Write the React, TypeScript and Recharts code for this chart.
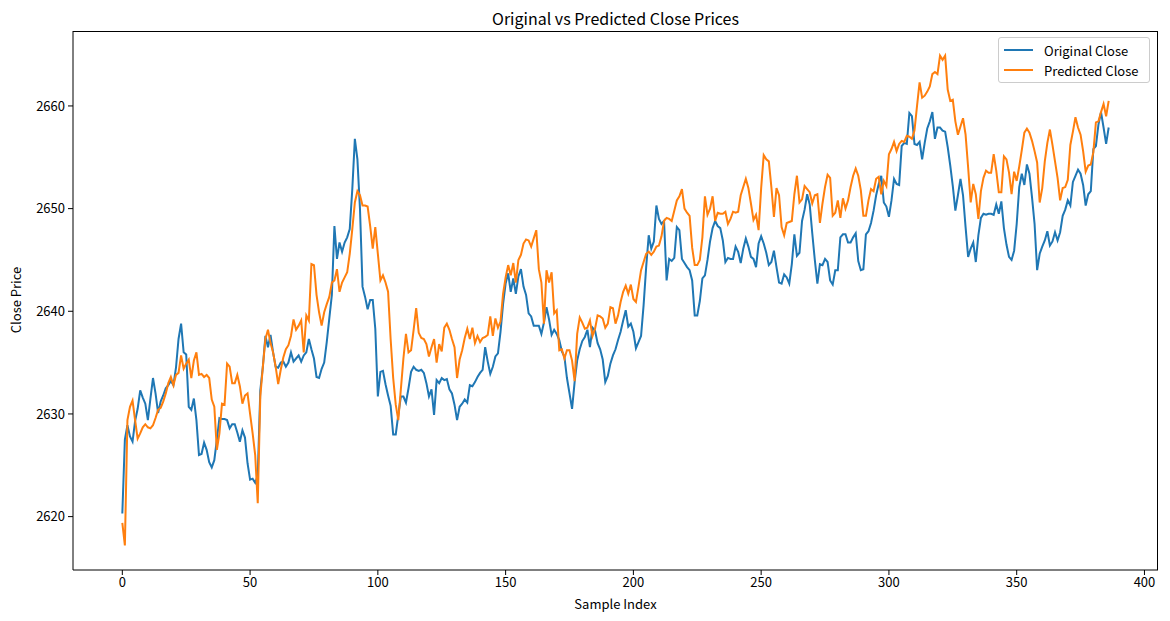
import { LineChart, Line, XAxis, YAxis } from 'recharts';

const FONT = '"Noto Sans CJK JP", "Noto Sans", sans-serif';
const BLUE = '#1f77b4';
const ORANGE = '#ff7f0e';

const xTicks = [0, 50, 100, 150, 200, 250, 300, 350, 400];
const yTicks = [2620, 2630, 2640, 2650, 2660];

// one value per sample index
const originalClose = [
  2620.3, 2627.5, 2628.9, 2627.8, 2627.3, 2629.3, 2630.5, 2632.3, 2631.6, 2631.0,
  2629.4, 2631.5, 2633.5, 2632.0, 2630.1, 2631.2, 2631.8, 2632.5, 2632.8, 2633.2,
  2632.8, 2634.5, 2637.3, 2638.8, 2636.0, 2635.8, 2630.7, 2630.4, 2631.5, 2629.4,
  2626.0, 2626.1, 2627.2, 2626.5, 2625.3, 2624.8, 2625.5, 2627.5, 2629.6, 2629.5,
  2629.5, 2629.4, 2628.6, 2629.0, 2629.0, 2628.2, 2627.3, 2628.4, 2627.7, 2625.2,
  2623.6, 2623.7, 2623.3, 2624.0, 2632.3, 2634.6, 2637.6, 2636.5, 2637.7, 2636.0,
  2634.6, 2634.5, 2635.0, 2635.1, 2634.6, 2635.0, 2636.0, 2635.1, 2635.4, 2635.7,
  2635.1, 2635.7, 2636.0, 2637.3, 2636.3, 2635.4, 2633.6, 2633.5, 2634.4, 2635.0,
  2637.0, 2639.3, 2641.6, 2648.3, 2645.1, 2646.7, 2645.8, 2646.7, 2647.2, 2648.0,
  2651.9, 2656.8, 2654.8, 2650.0, 2642.4, 2641.4, 2640.2, 2641.1, 2641.1, 2638.3,
  2631.7, 2634.1, 2634.2, 2632.9, 2631.8, 2630.8, 2628.0, 2628.0, 2629.9, 2631.7,
  2631.7, 2631.1, 2632.5, 2634.1, 2634.6, 2634.3, 2634.2, 2634.3, 2634.0, 2633.0,
  2631.7, 2632.4, 2629.9, 2633.3, 2633.0, 2633.5, 2633.3, 2633.4, 2632.4, 2632.0,
  2630.9, 2629.4, 2630.7, 2631.0, 2631.4, 2631.1, 2632.8, 2632.7, 2633.1, 2633.6,
  2634.0, 2634.3, 2636.5, 2635.1, 2633.9, 2634.6, 2635.6, 2635.9, 2638.0, 2640.7,
  2642.7, 2643.7, 2641.9, 2643.2, 2641.7, 2643.4, 2644.1, 2642.4, 2641.6, 2639.8,
  2639.5, 2638.6, 2638.6, 2638.6, 2637.8, 2638.9, 2640.4, 2639.2, 2637.7, 2638.2,
  2637.8, 2637.2, 2636.1, 2635.6, 2633.5, 2632.0, 2630.5, 2633.1, 2635.2, 2636.3,
  2637.1, 2637.5, 2638.2, 2636.5, 2638.4, 2638.1, 2636.9, 2636.3, 2635.3, 2633.1,
  2633.7, 2634.9, 2635.7, 2636.3, 2637.2, 2638.0, 2639.1, 2640.1, 2638.5, 2638.8,
  2638.0, 2636.4, 2637.0, 2637.6, 2640.6, 2644.3, 2647.4, 2646.1, 2646.8, 2650.3,
  2649.0, 2648.5, 2648.8, 2643.0, 2645.1, 2644.9, 2645.2, 2648.2, 2647.9, 2645.1,
  2644.7, 2644.3, 2644.0, 2643.0, 2639.6, 2639.6, 2641.0, 2643.2, 2643.5, 2645.0,
  2646.8, 2648.1, 2648.8, 2648.3, 2648.1, 2646.9, 2644.8, 2645.2, 2645.1, 2645.1,
  2646.3, 2645.8, 2644.7, 2646.1, 2647.1, 2646.3, 2645.3, 2645.1, 2644.3, 2646.6,
  2647.3, 2646.6, 2645.7, 2644.5, 2644.8, 2645.9, 2644.3, 2642.8, 2642.7, 2643.6,
  2643.3, 2642.7, 2644.6, 2647.5, 2645.4, 2645.7, 2648.8, 2649.9, 2651.4, 2650.4,
  2647.6, 2645.0, 2642.7, 2644.6, 2644.5, 2645.1, 2644.8, 2643.0, 2642.6, 2644.0,
  2644.0, 2647.2, 2647.5, 2647.5, 2646.7, 2646.7, 2647.2, 2647.6, 2644.9, 2644.0,
  2644.1, 2647.5, 2647.8, 2648.6, 2649.8, 2651.3, 2652.4, 2653.2, 2650.6, 2650.2,
  2649.2, 2650.8, 2652.9, 2652.4, 2652.3, 2656.1, 2656.4, 2656.3, 2659.3, 2659.0,
  2656.3, 2656.2, 2656.5, 2654.8, 2656.4, 2657.8, 2658.5, 2659.4, 2656.8, 2657.9,
  2657.9, 2657.6, 2657.5, 2656.0, 2654.2, 2652.2, 2649.8, 2651.3, 2652.9, 2651.3,
  2648.2, 2645.3, 2646.1, 2646.7, 2644.8, 2647.4, 2649.1, 2649.5, 2649.4, 2649.5,
  2649.5, 2649.4, 2650.4, 2649.5, 2650.7, 2648.1, 2646.5, 2645.3, 2645.0, 2645.9,
  2648.5, 2652.1, 2653.4, 2652.3, 2654.3, 2653.4, 2651.1, 2648.5, 2644.0, 2645.6,
  2646.3, 2646.9, 2647.8, 2646.4, 2646.8, 2647.7, 2646.9, 2647.7, 2649.3, 2649.9,
  2650.8, 2650.3, 2652.6, 2653.2, 2653.8, 2653.4, 2652.3, 2650.3, 2651.4, 2651.7,
  2655.8, 2656.1, 2658.2, 2659.4, 2657.9, 2656.3, 2657.9,
];

const predictedClose = [
  2619.4, 2617.2, 2629.4, 2630.7, 2631.3, 2629.4, 2627.6, 2628.1, 2628.7, 2629.0,
  2628.7, 2628.6, 2628.9, 2629.6, 2630.4, 2630.6, 2631.2, 2632.0, 2633.0, 2633.6,
  2632.8, 2633.8, 2634.0, 2635.7, 2634.4, 2634.9, 2635.3, 2633.5, 2635.2, 2636.0,
  2633.8, 2633.9, 2633.6, 2633.8, 2633.5, 2631.4, 2630.7, 2626.5, 2628.1, 2631.0,
  2630.9, 2634.9, 2634.6, 2633.0, 2633.0, 2633.8, 2632.7, 2631.0, 2631.8, 2632.0,
  2630.0, 2628.1, 2626.0, 2621.3, 2631.7, 2634.6, 2637.3, 2638.2, 2636.9, 2636.0,
  2634.6, 2632.9, 2634.3, 2635.5, 2636.3, 2636.7, 2637.6, 2639.2, 2638.2, 2638.6,
  2639.1, 2636.0, 2639.6, 2639.1, 2644.6, 2644.5, 2641.6, 2639.9, 2638.6, 2639.9,
  2640.7, 2641.4, 2642.8, 2643.0, 2644.1, 2641.9, 2642.8, 2643.3, 2643.8, 2645.6,
  2648.0, 2650.6, 2651.7, 2651.3, 2650.3, 2650.3, 2650.2, 2648.3, 2646.1, 2648.2,
  2645.6, 2643.0, 2643.5, 2642.8, 2641.9, 2637.3, 2633.5, 2630.9, 2629.4, 2632.4,
  2635.4, 2637.8, 2636.0, 2636.2, 2638.2, 2640.3, 2637.9, 2637.4, 2637.3, 2636.8,
  2635.6, 2636.5, 2637.3, 2635.0, 2636.8, 2636.1, 2638.4, 2638.8, 2638.2, 2637.3,
  2636.5, 2633.5, 2635.3, 2636.2, 2637.4, 2638.3, 2637.3, 2638.4, 2636.9, 2637.6,
  2637.0, 2637.4, 2637.5, 2637.7, 2639.5, 2637.6, 2639.3, 2638.4, 2639.0, 2641.7,
  2643.3, 2644.5, 2643.5, 2644.7, 2642.8, 2645.0, 2645.5, 2646.6, 2647.0, 2646.9,
  2646.3, 2647.1, 2647.9, 2644.1, 2642.8, 2638.8, 2644.0, 2642.8, 2643.8, 2639.8,
  2640.1, 2636.2, 2636.3, 2635.4, 2636.2, 2636.2, 2635.2, 2633.2, 2637.8, 2639.4,
  2638.9, 2638.3, 2638.4, 2639.1, 2637.6, 2638.3, 2639.6, 2639.5, 2639.3, 2638.4,
  2638.8, 2640.4, 2640.3, 2638.8, 2639.6, 2640.9, 2641.9, 2642.5, 2641.7, 2642.6,
  2641.2, 2640.9, 2642.4, 2644.0, 2644.8, 2645.6, 2645.8, 2645.5, 2645.8, 2646.3,
  2646.4, 2647.3, 2648.8, 2649.1, 2649.0, 2648.8, 2649.8, 2650.8, 2651.2, 2651.9,
  2650.0, 2649.6, 2649.3, 2646.2, 2644.5, 2644.5, 2645.0, 2647.2, 2651.2, 2649.4,
  2650.0, 2651.2, 2648.8, 2649.6, 2649.5, 2649.5, 2649.7, 2648.5, 2649.0, 2649.7,
  2649.6, 2649.7, 2651.3, 2652.1, 2652.9, 2652.0, 2650.5, 2648.9, 2649.4, 2647.9,
  2652.0, 2655.2, 2654.8, 2654.6, 2652.1, 2649.2, 2652.0, 2651.3, 2648.2, 2647.4,
  2648.6, 2648.7, 2648.8, 2651.4, 2653.2, 2650.6, 2650.9, 2652.2, 2651.9, 2651.6,
  2650.5, 2651.3, 2651.4, 2648.6, 2650.5, 2652.1, 2653.3, 2653.0, 2649.3, 2649.6,
  2650.8, 2649.1, 2651.0, 2650.0, 2650.8, 2652.1, 2653.2, 2653.9, 2653.2, 2651.8,
  2649.3, 2649.3, 2650.8, 2651.9, 2651.7, 2652.9, 2653.1, 2651.4, 2652.7, 2652.2,
  2655.3, 2655.8, 2656.5, 2655.6, 2656.3, 2656.6, 2656.5, 2657.1, 2657.0, 2656.8,
  2657.6, 2660.0, 2662.3, 2660.8, 2661.0, 2661.4, 2661.9, 2663.1, 2663.3, 2663.1,
  2664.9, 2664.5, 2664.9, 2661.6, 2660.5, 2660.6, 2658.5, 2657.2, 2658.0, 2658.8,
  2657.2, 2654.0, 2650.6, 2652.4, 2651.4, 2649.0, 2651.7, 2653.0, 2653.7, 2653.5,
  2653.5, 2655.3, 2653.7, 2651.6, 2651.6, 2655.1, 2654.8, 2653.5, 2651.4, 2653.6,
  2652.7, 2654.1, 2655.7, 2657.4, 2657.8, 2657.4, 2656.6, 2655.6, 2654.5, 2650.6,
  2652.0, 2654.6, 2656.4, 2657.7, 2656.2, 2654.6, 2653.0, 2650.8, 2652.0, 2652.1,
  2652.8, 2656.2, 2657.5, 2658.9, 2657.9, 2657.2, 2655.6, 2653.6, 2654.2, 2654.3,
  2655.5, 2658.4, 2658.5, 2659.4, 2660.2, 2659.0, 2660.5,
];

const data = originalClose.map((v, i) => ({
  idx: i,
  original: v,
  predicted: predictedClose[i],
}));

const tickStyle = { fill: '#000', fontSize: 13, fontFamily: FONT };

function LegendBox() {
  const rows = [
    { name: 'Original Close', color: BLUE },
    { name: 'Predicted Close', color: ORANGE },
  ];
  return (
    <div
      style={{
        position: 'absolute',
        left: 998,
        top: 37,
        width: 152,
        height: 46,
        boxSizing: 'border-box',
        border: '1px solid #cccccc',
        borderRadius: 3,
        background: 'rgba(255,255,255,0.8)',
        fontFamily: FONT,
        fontSize: 13,
        paddingTop: 2,
      }}
    >
      {rows.map((r) => (
        <div key={r.name} style={{ display: 'flex', alignItems: 'center', height: 20 }}>
          <span style={{ width: 29, height: 2, marginLeft: 5, background: r.color }} />
          <span style={{ marginLeft: 11, color: '#000' }}>{r.name}</span>
        </div>
      ))}
    </div>
  );
}

export default function App() {
  return (
    <div
      style={{
        position: 'absolute',
        left: 0,
        top: 0,
        width: 1170,
        height: 621,
        background: '#fff',
        fontFamily: FONT,
      }}
    >
      <LineChart
        width={1170}
        height={621}
        data={data}
        margin={{ top: 31, right: 12, bottom: 21, left: 13 }}
      >
        <XAxis
          dataKey="idx"
          type="number"
          domain={[-19.3, 405.3]}
          ticks={xTicks}
          allowDataOverflow
          height={30}
          tick={tickStyle}
          tickSize={5}
          tickMargin={3}
          stroke="#000"
          tickLine={{ stroke: '#000' }}
        />
        <YAxis
          type="number"
          domain={[2614.8, 2667.3]}
          ticks={yTicks}
          allowDataOverflow
          width={60}
          tick={tickStyle}
          tickSize={5}
          tickMargin={3}
          stroke="#000"
          tickLine={{ stroke: '#000' }}
        />
        <Line
          type="linear"
          dataKey="original"
          stroke={BLUE}
          strokeWidth={2}
          dot={false}
          isAnimationActive={false}
        />
        <Line
          type="linear"
          dataKey="predicted"
          stroke={ORANGE}
          strokeWidth={2}
          dot={false}
          isAnimationActive={false}
        />
      </LineChart>

      {/* top and right spines of the axes frame */}
      <div
        style={{
          position: 'absolute',
          left: 73,
          top: 31,
          width: 1085,
          height: 539,
          boxSizing: 'border-box',
          borderTop: '1px solid #000',
          borderRight: '1px solid #000',
          pointerEvents: 'none',
        }}
      />

      {/* title and axis labels */}
      <div
        style={{
          position: 'absolute',
          left: 73,
          width: 1085,
          top: 6,
          textAlign: 'center',
          fontSize: 16,
          color: '#000',
        }}
      >
        Original vs Predicted Close Prices
      </div>
      <div
        style={{
          position: 'absolute',
          left: 73,
          width: 1085,
          top: 594,
          textAlign: 'center',
          fontSize: 13,
          color: '#000',
        }}
      >
        Sample Index
      </div>
      <div
        style={{
          position: 'absolute',
          left: 15,
          top: 300,
          transform: 'translate(-50%, -50%) rotate(-90deg)',
          whiteSpace: 'nowrap',
          fontSize: 13,
          color: '#000',
        }}
      >
        Close Price
      </div>
      <LegendBox />
    </div>
  );
}
